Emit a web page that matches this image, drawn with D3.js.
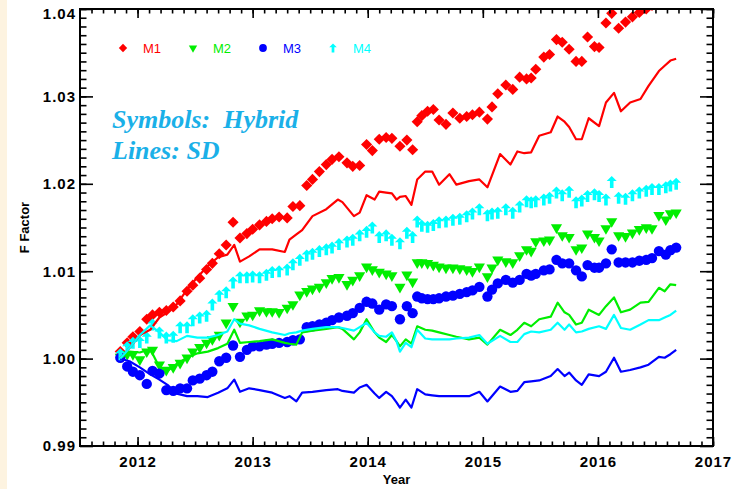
<!DOCTYPE html>
<html>
<head>
<meta charset="utf-8">
<script src="https://cdn.jsdelivr.net/npm/d3@7"></script>
<style>
    body { margin: 0; background: #ffffff; }
    svg { display: block; font-family: "Liberation Sans", Arial, Helvetica, sans-serif; }
</style>
</head>
<body>
<div id="chart-container"></div>
<script>
// Modes and tick labels
const modes = ["M1", "M2", "M3", "M4"];
const modeColors = ["#ff0000", "#00ee00", "#0000ff", "#00ffff"];
const yearTicks = [2012, 2013, 2014, 2015, 2016, 2017];
const factorTicks = [0.99, 1.00, 1.01, 1.02, 1.03, 1.04];

// Hybrid (symbols)
const hybridYears = [
    2011.85, 2011.91, 2011.96, 2012.02, 2012.08, 2012.13, 2012.19, 2012.25, 2012.31, 2012.37,
    2012.43, 2012.48, 2012.54, 2012.60, 2012.65, 2012.71, 2012.77, 2012.83, 2012.89, 2012.95,
    2013.00, 2013.06, 2013.12, 2013.17, 2013.23, 2013.30, 2013.35, 2013.41, 2013.47, 2013.52,
    2013.58, 2013.64, 2013.69, 2013.75, 2013.82, 2013.87, 2013.93, 2013.99, 2014.04, 2014.10,
    2014.16, 2014.21, 2014.28, 2014.34, 2014.39, 2014.43, 2014.47, 2014.52, 2014.57, 2014.62,
    2014.68, 2014.74, 2014.80, 2014.86, 2014.91, 2014.97, 2015.04, 2015.08, 2015.13, 2015.20,
    2015.26, 2015.32, 2015.38, 2015.42, 2015.46, 2015.53, 2015.58, 2015.64, 2015.69, 2015.75,
    2015.81, 2015.86, 2015.91, 2015.97, 2016.01, 2016.07, 2016.12, 2016.18, 2016.24, 2016.30,
    2016.36, 2016.42, 2016.47, 2016.53, 2016.59, 2016.63, 2016.68
];
const hybridM1 = [
    1.0008, 1.0018, 1.0025, 1.0031, 1.0045, 1.0050, 1.0053, 1.0055, 1.0059, 1.0066,
    1.0077, 1.0084, 1.0092, 1.0102, 1.0109, 1.0120, 1.0130, 1.0156, 1.0138, 1.0143,
    1.0148, 1.0153, 1.0157, 1.0160, 1.0162, 1.0161, 1.0174, 1.0175, 1.0198, 1.0205,
    1.0214, 1.0222, 1.0228, 1.0231, 1.0224, 1.0220, 1.0221, 1.0245, 1.0238, 1.0251,
    1.0253, 1.0252, 1.0243, 1.0250, 1.0239, 1.0271, 1.0278, 1.0283, 1.0285, 1.0273,
    1.0268, 1.0281, 1.0275, 1.0277, 1.0279, 1.0282, 1.0274, 1.0288, 1.0303, 1.0313,
    1.0308, 1.0322, 1.0320, 1.0321, 1.0331, 1.0345, 1.0348, 1.0365, 1.0362, 1.0354,
    1.0340, 1.0340, 1.0368, 1.0357, 1.0356, 1.0384, 1.0395, 1.0378, 1.0385, 1.0391,
    1.0396, 1.0400, 1.0404, 1.0409, 1.0414, 1.0418, 1.0422
];
const hybridM2 = [
    1.0002, 1.0005, 1.0005, 0.9999, 1.0008, 1.0010, 0.9993, 0.9987, 0.9990, 0.9995,
    1.0001, 1.0008, 1.0013, 1.0018, 1.0022, 1.0027, 1.0041, 1.0060, 1.0042, 1.0049,
    1.0050, 1.0055, 1.0054, 1.0054, 1.0053, 1.0058, 1.0062, 1.0073, 1.0077, 1.0080,
    1.0082, 1.0087, 1.0092, 1.0093, 1.0085, 1.0090, 1.0095, 1.0105, 1.0102, 1.0099,
    1.0097, 1.0095, 1.0082, 1.0096, 1.0088, 1.0110, 1.0110, 1.0109, 1.0107, 1.0105,
    1.0104, 1.0104, 1.0103, 1.0102, 1.0100, 1.0105, 1.0094, 1.0104, 1.0113, 1.0111,
    1.0110, 1.0118, 1.0125, 1.0123, 1.0134, 1.0135, 1.0136, 1.0150, 1.0141, 1.0139,
    1.0125, 1.0127, 1.0143, 1.0139, 1.0135, 1.0149, 1.0157, 1.0141, 1.0140, 1.0144,
    1.0148, 1.0150, 1.0149, 1.0164, 1.0159, 1.0166, 1.0167
];
const hybridM3 = [
    1.0001, 0.9991, 0.9985, 0.9981, 0.9971, 0.9986, 0.9983, 0.9964, 0.9963, 0.9966,
    0.9966, 0.9975, 0.9977, 0.9981, 0.9985, 0.9997, 1.0001, 1.0015, 1.0002, 1.0010,
    1.0014, 1.0014, 1.0016, 1.0017, 1.0018, 1.0019, 1.0021, 1.0022, 1.0036, 1.0037,
    1.0039, 1.0041, 1.0044, 1.0047, 1.0049, 1.0052, 1.0058, 1.0065, 1.0063, 1.0056,
    1.0062, 1.0060, 1.0045, 1.0060, 1.0052, 1.0071, 1.0069, 1.0068, 1.0068, 1.0069,
    1.0071, 1.0072, 1.0074, 1.0076, 1.0078, 1.0082, 1.0071, 1.0079, 1.0086, 1.0090,
    1.0087, 1.0090, 1.0097, 1.0095, 1.0097, 1.0101, 1.0102, 1.0113, 1.0109, 1.0109,
    1.0101, 1.0094, 1.0107, 1.0104, 1.0104, 1.0109, 1.0125, 1.0110, 1.0110, 1.0110,
    1.0112, 1.0113, 1.0115, 1.0123, 1.0119, 1.0124, 1.0127
];
const hybridM4 = [
    1.0005, 1.0013, 1.0018, 1.0019, 1.0024, 1.0039, 1.0030, 1.0024, 1.0025, 1.0036,
    1.0036, 1.0044, 1.0047, 1.0049, 1.0062, 1.0072, 1.0076, 1.0087, 1.0093, 1.0093,
    1.0094, 1.0093, 1.0096, 1.0099, 1.0100, 1.0102, 1.0108, 1.0113, 1.0118, 1.0120,
    1.0123, 1.0125, 1.0127, 1.0131, 1.0134, 1.0136, 1.0141, 1.0145, 1.0150, 1.0139,
    1.0141, 1.0136, 1.0132, 1.0144, 1.0139, 1.0157, 1.0152, 1.0151, 1.0153, 1.0156,
    1.0157, 1.0159, 1.0160, 1.0163, 1.0166, 1.0171, 1.0164, 1.0166, 1.0167, 1.0171,
    1.0167, 1.0174, 1.0180, 1.0179, 1.0180, 1.0182, 1.0184, 1.0190, 1.0187, 1.0191,
    1.0179, 1.0181, 1.0186, 1.0188, 1.0186, 1.0182, 1.0202, 1.0184, 1.0183, 1.0187,
    1.0190, 1.0192, 1.0194, 1.0194, 1.0196, 1.0198, 1.0200
];

// SD (lines)
const sdYears = [
    2011.85, 2011.93, 2012.02, 2012.11, 2012.19, 2012.26, 2012.34, 2012.43, 2012.52, 2012.61,
    2012.70, 2012.78, 2012.84, 2012.89, 2012.97, 2013.06, 2013.17, 2013.28, 2013.32, 2013.38,
    2013.43, 2013.52, 2013.64, 2013.74, 2013.78, 2013.88, 2013.93, 2013.99, 2014.06, 2014.10,
    2014.16, 2014.21, 2014.25, 2014.28, 2014.33, 2014.38, 2014.43, 2014.50, 2014.56, 2014.62,
    2014.71, 2014.77, 2014.88, 2014.97, 2015.04, 2015.15, 2015.24, 2015.30, 2015.36, 2015.42,
    2015.49, 2015.59, 2015.65, 2015.71, 2015.75, 2015.81, 2015.86, 2015.92, 2016.01, 2016.07,
    2016.14, 2016.20, 2016.28, 2016.37, 2016.44, 2016.53, 2016.58, 2016.63, 2016.68
];
const sdM1 = [
    1.0000, 1.0012, 1.0027, 1.0033, 1.0047, 1.0053, 1.0062, 1.0079, 1.0093, 1.0106,
    1.0116, 1.0119, 1.0130, 1.0111, 1.0117, 1.0125, 1.0125, 1.0122, 1.0136, 1.0142,
    1.0147, 1.0163, 1.0171, 1.0182, 1.0179, 1.0163, 1.0167, 1.0187, 1.0182, 1.0191,
    1.0190, 1.0189, 1.0182, 1.0185, 1.0186, 1.0176, 1.0205, 1.0214, 1.0214, 1.0199,
    1.0211, 1.0199, 1.0203, 1.0205, 1.0196, 1.0234, 1.0222, 1.0237, 1.0235, 1.0236,
    1.0255, 1.0259, 1.0277, 1.0271, 1.0265, 1.0251, 1.0251, 1.0275, 1.0266, 1.0293,
    1.0304, 1.0283, 1.0293, 1.0297, 1.0312, 1.0329, 1.0335, 1.0341, 1.0343
];
const sdM2 = [
    1.0000, 1.0008, 1.0007, 1.0011, 0.9990, 0.9986, 0.9994, 1.0001, 1.0006, 1.0008,
    1.0012, 1.0017, 1.0033, 1.0018, 1.0019, 1.0020, 1.0022, 1.0018, 1.0017, 1.0016,
    1.0030, 1.0032, 1.0034, 1.0036, 1.0034, 1.0022, 1.0030, 1.0045, 1.0030, 1.0024,
    1.0019, 1.0027, 1.0020, 1.0014, 1.0022, 1.0017, 1.0037, 1.0033, 1.0032, 1.0030,
    1.0027, 1.0025, 1.0022, 1.0024, 1.0016, 1.0033, 1.0027, 1.0033, 1.0041, 1.0037,
    1.0045, 1.0048, 1.0064, 1.0053, 1.0050, 1.0039, 1.0041, 1.0056, 1.0050, 1.0060,
    1.0070, 1.0053, 1.0056, 1.0064, 1.0065, 1.0081, 1.0077, 1.0085, 1.0084
];
const sdM3 = [
    1.0000, 0.9997, 0.9990, 0.9982, 0.9976, 0.9970, 0.9960, 0.9957, 0.9957, 0.9956,
    0.9961, 0.9966, 0.9976, 0.9962, 0.9966, 0.9964, 0.9961, 0.9955, 0.9957, 0.9951,
    0.9961, 0.9962, 0.9964, 0.9965, 0.9963, 0.9961, 0.9967, 0.9970, 0.9960, 0.9955,
    0.9962, 0.9957, 0.9950, 0.9944, 0.9953, 0.9944, 0.9965, 0.9959, 0.9958, 0.9957,
    0.9957, 0.9957, 0.9957, 0.9962, 0.9951, 0.9968, 0.9962, 0.9963, 0.9973, 0.9974,
    0.9975, 0.9980, 0.9988, 0.9980, 0.9984, 0.9975, 0.9970, 0.9982, 0.9980, 0.9985,
    1.0001, 0.9985, 0.9987, 0.9990, 0.9993, 1.0002, 1.0001, 1.0005, 1.0010
];
const sdM4 = [
    1.0000, 1.0012, 1.0027, 1.0038, 1.0030, 1.0021, 1.0020, 1.0026, 1.0024, 1.0024,
    1.0027, 1.0031, 1.0045, 1.0040, 1.0038, 1.0034, 1.0030, 1.0027, 1.0029, 1.0030,
    1.0032, 1.0034, 1.0036, 1.0036, 1.0035, 1.0032, 1.0036, 1.0041, 1.0030, 1.0026,
    1.0025, 1.0030, 1.0020, 1.0008, 1.0018, 1.0013, 1.0033, 1.0023, 1.0022, 1.0022,
    1.0022, 1.0023, 1.0024, 1.0027, 1.0017, 1.0026, 1.0019, 1.0019, 1.0028, 1.0031,
    1.0030, 1.0033, 1.0041, 1.0033, 1.0039, 1.0030, 1.0031, 1.0034, 1.0037, 1.0034,
    1.0050, 1.0035, 1.0033, 1.0039, 1.0044, 1.0044, 1.0047, 1.0050, 1.0055
];

const hybridSeries = [hybridM1, hybridM2, hybridM3, hybridM4];
const sdSeries = [sdM1, sdM2, sdM3, sdM4];

const width = 739;
const height = 489;
const plot = { left: 80, right: 713, top: 9, bottom: 446 };

const svg = d3.select("#chart-container")
    .append("svg")
    .attr("width", width)
    .attr("height", height);

svg.append("rect")
    .attr("width", width)
    .attr("height", height)
    .attr("fill", "#ffffff");
// pale strip on the left edge
svg.append("rect")
    .attr("width", 7)
    .attr("height", height)
    .attr("fill", "#fdf3e0");

const x = d3.scaleLinear().domain([2011.5, 2017]).range([plot.left, plot.right]);
const y = d3.scaleLinear().domain([0.99, 1.04]).range([plot.bottom, plot.top]);

svg.append("clipPath")
    .attr("id", "plot-clip")
    .append("rect")
    .attr("x", plot.left)
    .attr("y", plot.top)
    .attr("width", plot.right - plot.left)
    .attr("height", plot.bottom - plot.top);

// Marker shapes, one per mode
const diamond = d3.symbol().type(d3.symbolSquare);
const triangle = d3.symbol().type(d3.symbolTriangle);
const circle = d3.symbol().type(d3.symbolCircle);

function arrowPath(s) {
    const h = s / 2;
    const w = s * 0.42;
    const st = s * 0.15;
    return `M0,${-h}L${w},${-h + w}L${st},${-h + w}L${st},${h}L${-st},${h}L${-st},${-h + w}L${-w},${-h + w}Z`;
}

function markerPath(i, scale) {
    if (i === 0) return diamond.size(62 * scale * scale)();
    if (i === 1) return triangle.size(54 * scale * scale)();
    if (i === 2) return circle.size(84 * scale * scale)();
    return arrowPath(12 * scale);
}

function markerRotate(i) {
    if (i === 0) return " rotate(45)";
    if (i === 1) return " rotate(180)";
    return "";
}

const plotArea = svg.append("g").attr("clip-path", "url(#plot-clip)");

// Symbols: Hybrid
hybridSeries.forEach((values, i) => {
    plotArea.append("g")
        .selectAll("path")
        .data(values.map((v, j) => ({ year: hybridYears[j], value: v })))
        .enter().append("path")
        .attr("transform", d => `translate(${x(d.year)},${y(d.value)})` + markerRotate(i))
        .attr("d", markerPath(i, 1))
        .attr("fill", modeColors[i]);
});

// Lines: SD
const line = d3.line()
    .x(d => x(d.year))
    .y(d => y(d.value));

sdSeries.forEach((values, i) => {
    plotArea.append("path")
        .datum(values.map((v, j) => ({ year: sdYears[j], value: v })))
        .attr("fill", "none")
        .attr("stroke", modeColors[i])
        .attr("stroke-width", 2.2)
        .attr("stroke-linejoin", "round")
        .attr("d", line);
});

// Axes: ticks point inward on all four sides
function styleAxis(g) {
    g.select(".domain").remove();
    g.selectAll("line").attr("stroke", "#000").attr("stroke-width", 1.6);
}

const minorYears = d3.range(2011.6, 2017, 0.1).map(d => +d.toFixed(1));
const minorFactors = d3.range(0.991, 1.04, 0.001).map(d => +d.toFixed(3));

svg.append("g")
    .attr("transform", `translate(0,${plot.bottom})`)
    .call(d3.axisBottom(x).tickValues(minorYears).tickSize(-4.5).tickFormat(""))
    .call(styleAxis);
svg.append("g")
    .attr("transform", `translate(0,${plot.top})`)
    .call(d3.axisTop(x).tickValues(minorYears).tickSize(-4.5).tickFormat(""))
    .call(styleAxis);
svg.append("g")
    .attr("transform", `translate(0,${plot.top})`)
    .call(d3.axisTop(x).tickValues(yearTicks).tickSize(-9).tickFormat(""))
    .call(styleAxis);

const xAxis = svg.append("g")
    .attr("transform", `translate(0,${plot.bottom})`)
    .call(d3.axisBottom(x).tickValues(yearTicks).tickSize(-9).tickPadding(10).tickFormat(d3.format("d")))
    .call(styleAxis);

svg.append("g")
    .attr("transform", `translate(${plot.left},0)`)
    .call(d3.axisLeft(y).tickValues(minorFactors).tickSize(-6.5).tickFormat(""))
    .call(styleAxis);
svg.append("g")
    .attr("transform", `translate(${plot.right},0)`)
    .call(d3.axisRight(y).tickValues(minorFactors).tickSize(-6.5).tickFormat(""))
    .call(styleAxis);
svg.append("g")
    .attr("transform", `translate(${plot.right},0)`)
    .call(d3.axisRight(y).tickValues(factorTicks).tickSize(-13).tickFormat(""))
    .call(styleAxis);

const yAxis = svg.append("g")
    .attr("transform", `translate(${plot.left},0)`)
    .call(d3.axisLeft(y).tickValues(factorTicks).tickSize(-13).tickPadding(4).tickFormat(d3.format(".2f")))
    .call(styleAxis);

[xAxis, yAxis].forEach(g => {
    g.selectAll("text")
        .attr("fill", "#000")
        .attr("font-size", 15)
        .attr("font-weight", "bold")
        .attr("letter-spacing", 1);
});
// top label sits a little below its tick
yAxis.selectAll(".tick text").filter(d => d === 1.04).attr("dy", "0.62em");

// Frame
svg.append("rect")
    .attr("x", plot.left)
    .attr("y", plot.top)
    .attr("width", plot.right - plot.left)
    .attr("height", plot.bottom - plot.top)
    .attr("fill", "none")
    .attr("stroke", "#000")
    .attr("stroke-width", 2);

// Axis titles
svg.append("text")
    .attr("x", (plot.left + plot.right) / 2)
    .attr("y", 484)
    .attr("text-anchor", "middle")
    .attr("font-size", 13)
    .attr("font-weight", "bold")
    .text("Year");

svg.append("text")
    .attr("transform", `translate(29,${(plot.top + plot.bottom) / 2}) rotate(-90)`)
    .attr("text-anchor", "middle")
    .attr("font-size", 13)
    .attr("font-weight", "bold")
    .text("F Factor");

// Legend
const legend = svg.append("g").attr("transform", "translate(123,48)");
modes.forEach((name, i) => {
    const item = legend.append("g").attr("transform", `translate(${i * 70},0)`);
    item.append("path")
        .attr("transform", "translate(0,0)" + markerRotate(i))
        .attr("d", markerPath(i, 0.75))
        .attr("fill", modeColors[i]);
    item.append("text")
        .attr("x", 20)
        .attr("y", 5)
        .attr("font-size", 13)
        .attr("fill", modeColors[i])
        .text(name);
});

// Notes
const notes = svg.append("g")
    .attr("font-family", "'Liberation Serif', 'Times New Roman', serif")
    .attr("font-style", "italic")
    .attr("font-weight", "bold")
    .attr("font-size", 26)
    .attr("fill", "#1ab0e8");
notes.append("text").attr("x", 112).attr("y", 128).attr("xml:space", "preserve").text("Symbols:  Hybrid");
notes.append("text").attr("x", 112).attr("y", 159).text("Lines: SD");
</script>
</body>
</html>
